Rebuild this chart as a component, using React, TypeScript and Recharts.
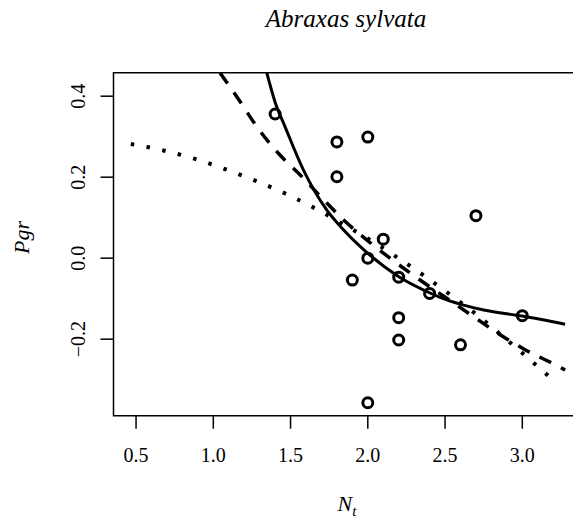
import React from 'react';
import { ComposedChart, Line, Scatter, XAxis, YAxis, ReferenceArea } from 'recharts';

// observed points (Nt, Pgr)
const obsX = [1.4, 1.8, 2.0, 1.8, 2.7, 2.1, 2.0, 1.9, 2.2, 2.4, 2.2, 2.2, 2.6, 3.0, 2.0];
const obsY = [0.356, 0.287, 0.299, 0.201, 0.105, 0.047, 0.0, -0.054, -0.047, -0.087, -0.147, -0.202, -0.214, -0.142, -0.357];

// fitted curves
const solidX = [1.346, 1.4, 1.464, 1.583, 1.734, 1.842, 1.95, 2.0, 2.198, 2.403, 2.468, 2.62, 2.75, 3.0, 3.277];
const solidY = [0.458, 0.385, 0.325, 0.218, 0.119, 0.07, 0.029, 0.012, -0.045, -0.086, -0.097, -0.116, -0.128, -0.143, -0.163];

const dashX = [1.044, 1.173, 1.281, 1.421, 1.561, 1.7, 1.842, 1.993, 2.165, 2.338, 2.511, 2.683, 2.824, 3.018, 3.212, 3.277];
const dashY = [0.457, 0.387, 0.325, 0.259, 0.206, 0.15, 0.095, 0.045, -0.006, -0.054, -0.099, -0.144, -0.181, -0.226, -0.263, -0.276];

const dotX = [0.466, 0.677, 0.882, 1.076, 1.275, 1.469, 1.659, 1.835, 2.02, 2.198, 2.371, 2.54, 2.7, 2.87, 3.033, 3.193];
const dotY = [0.282, 0.266, 0.245, 0.22, 0.191, 0.159, 0.123, 0.085, 0.044, 0.0, -0.045, -0.092, -0.138, -0.192, -0.245, -0.299];

const xTicks = [0.5, 1.0, 1.5, 2.0, 2.5, 3.0];
const yTicks = [-0.2, 0.0, 0.2, 0.4];

const xDomain = [0.354, 3.367];
const yDomain = [-0.389, 0.458];

const zip = (xs: number[], ys: number[]) => xs.map((x, i) => ({ x, y: ys[i] }));

const serif = '"Liberation Serif", "DejaVu Serif", serif';

const YTick = (props: any) => {
  const { x, y, payload } = props;
  return (
    <text
      transform={`translate(${x},${y}) rotate(-90)`}
      textAnchor="middle"
      fontFamily={serif}
      fontSize={20}
      fill="#000"
    >
      {payload.value.toFixed(1).replace('-', '\u2212')}
    </text>
  );
};

const Ring = (props: any) => (
  <circle cx={props.cx} cy={props.cy} r={5} fill="none" stroke="#000" strokeWidth={3} />
);

export default function App() {
  const W = 573;
  const H = 517;
  return (
    <div style={{ position: 'relative', width: W, height: H }}>
      <ComposedChart width={W} height={H} margin={{ top: 64.7, right: 2, bottom: 49.3, left: 45.5 }}>
        <XAxis
          type="number"
          dataKey="x"
          domain={xDomain}
          ticks={xTicks}
          allowDataOverflow
          axisLine={false}
          tickLine={{ stroke: '#000', strokeWidth: 1.5 }}
          tickSize={13}
          tickMargin={19}
          height={60}
          tickFormatter={(v: number) => v.toFixed(1)}
          tick={{ fontFamily: serif, fontSize: 20, fill: '#000' }}
        />
        <YAxis
          type="number"
          dataKey="y"
          domain={yDomain}
          ticks={yTicks}
          allowDataOverflow
          axisLine={false}
          tickLine={{ stroke: '#000', strokeWidth: 1.5 }}
          tickSize={13}
          tickMargin={15.5}
          width={60}
          tick={<YTick />}
        />
        <ReferenceArea
          x1={xDomain[0]}
          x2={xDomain[1]}
          y1={yDomain[0]}
          y2={yDomain[1]}
          fill="none"
          fillOpacity={0}
          stroke="#000"
          strokeWidth={1.5}
          ifOverflow="visible"
        />
        <Line
          data={zip(dotX, dotY)}
          dataKey="y"
          type="monotone"
          stroke="#000"
          strokeWidth={4}
          strokeDasharray="3.5 12.5"
          dot={false}
          isAnimationActive={false}
        />
        <Line
          data={zip(dashX, dashY)}
          dataKey="y"
          type="monotone"
          stroke="#000"
          strokeWidth={3.5}
          strokeDasharray="13 11"
          dot={false}
          isAnimationActive={false}
        />
        <Line
          data={zip(solidX, solidY)}
          dataKey="y"
          type="monotone"
          stroke="#000"
          strokeWidth={3}
          dot={false}
          isAnimationActive={false}
        />
        <Scatter data={zip(obsX, obsY)} dataKey="y" shape={<Ring />} isAnimationActive={false} />
      </ComposedChart>
      <svg
        width={W}
        height={H}
        style={{ position: 'absolute', left: 0, top: 0, pointerEvents: 'none', overflow: 'visible' }}
      >
        <text x={338} y={19} textAnchor="middle" fontFamily={serif} fontStyle="italic" fontSize={25} fill="#000">
          Abraxas sylvata
        </text>
        <text x={339} y={503} textAnchor="middle" fontFamily={serif} fontStyle="italic" fontSize={22} fill="#000">
          N<tspan dy={5} fontSize={15}>t</tspan>
        </text>
        <text
          transform="translate(21,229.5) rotate(-90)"
          textAnchor="middle"
          fontFamily={serif}
          fontStyle="italic"
          fontSize={22}
          fill="#000"
        >
          Pgr
        </text>
      </svg>
    </div>
  );
}
